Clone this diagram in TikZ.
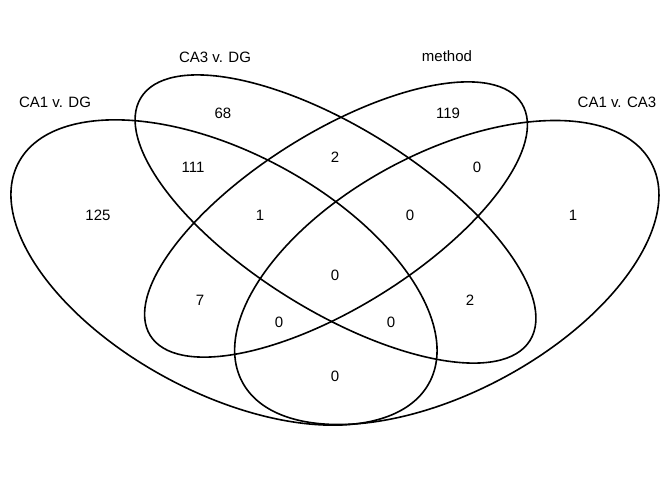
\documentclass[tikz,border=0pt]{standalone}
\usepackage{fontspec}
\setmainfont{Liberation Sans}
\begin{document}
\begin{tikzpicture}[x=1pt,y=-1pt,
  setline/.style={draw=black,line width=1.6pt},
  lab/.style={font=\fontsize{15}{18}\selectfont,inner sep=0pt},
  num/.style={font=\fontsize{15}{18}\selectfont,inner sep=0pt}]
\useasboundingbox[fill=white] (0,0) rectangle (672,480);
% ellipse centres
\coordinate (cA) at (224,272.5);
\coordinate (cB) at (335.5,219);
\coordinate (cC) at (336,219.5);
\coordinate (cD) at (446.8,272.5);
\draw[setline,rotate around={-28.2:(cA)}] (cA) ellipse (233pt and 120pt);
\draw[setline,rotate around={-32:(cB)}] (cB) ellipse (229.3pt and 91.3pt);
\draw[setline,rotate around={32:(cC)}] (cC) ellipse (219pt and 87.2pt);
\draw[setline,rotate around={28.2:(cD)}] (cD) ellipse (232pt and 119.5pt);
% set labels
\node[lab] (lA) at (55,102) {CA1 v. DG};
\node[lab] (lB) at (215,57) {CA3 v. DG};
\node[lab] (lC) at (447,56) {method};
\node[lab] (lD) at (617,102) {CA1 v. CA3};
% counts
\node[num] (n1) at (98,215) {125};
\node[num] (n2) at (223,113) {68};
\node[num] (n3) at (193,167) {111};
\node[num] (n4) at (335,157) {2};
\node[num] (n5) at (448,113) {119};
\node[num] (n6) at (477,167) {0};
\node[num] (n7) at (260,215) {1};
\node[num] (n8) at (410,215) {0};
\node[num] (n9) at (573,215) {1};
\node[num] (n10) at (335,275) {0};
\node[num] (n11) at (200,300) {7};
\node[num] (n12) at (470,300) {2};
\node[num] (n13) at (279,322) {0};
\node[num] (n14) at (391,322) {0};
\node[num] (n15) at (335,376) {0};
\end{tikzpicture}
\end{document}
